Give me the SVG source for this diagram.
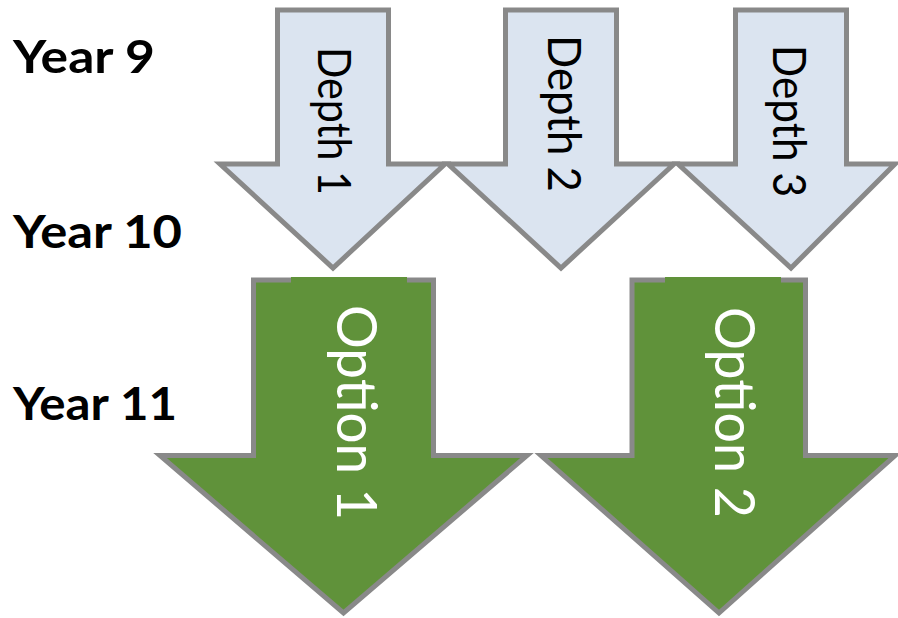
<svg xmlns="http://www.w3.org/2000/svg" width="898" height="618" viewBox="0 0 898 618">
<style>
.year{font-family:Lato,"Liberation Sans",sans-serif;font-weight:bold;font-size:45px;fill:#000}
.depth{fill:#dbe4f0;stroke:#898989;stroke-width:5;stroke-linejoin:miter}
.opt{fill:#60923a;stroke:#898989;stroke-width:5;stroke-linejoin:miter}
.dtext{font-family:Lato,"Liberation Sans",sans-serif;font-size:46px;fill:#000}
.otext{font-family:Lato,"Liberation Sans",sans-serif;font-size:56px;fill:#fff}
</style>
<rect width="898" height="618" fill="#fff"/>
<g id="labels">
<text class="year" x="13" y="73" textLength="142" lengthAdjust="spacingAndGlyphs">Year 9</text>
<text class="year" x="13" y="248" textLength="169" lengthAdjust="spacingAndGlyphs">Year 10</text>
<text class="year" x="13" y="420" textLength="164" lengthAdjust="spacingAndGlyphs">Year 11</text>
</g>
<g id="depth1">
<polygon class="depth" points="277.5,10 388.5,10 388.5,164 445,164 333,268 220,164 277.5,164"/>
<text class="dtext" transform="translate(318,47) rotate(90)" textLength="148" lengthAdjust="spacingAndGlyphs">Depth 1</text>
</g>
<g id="depth2">
<polygon class="depth" points="505.5,10 616.5,10 616.5,164 674,164 561,268 448,164 505.5,164"/>
<text class="dtext" transform="translate(548,35) rotate(90)" textLength="157" lengthAdjust="spacingAndGlyphs">Depth 2</text>
</g>
<g id="depth3">
<polygon class="depth" points="735.5,10 846.5,10 846.5,164 895,164 791,268 678,164 735.5,164"/>
<text class="dtext" transform="translate(773,45) rotate(90)" textLength="152" lengthAdjust="spacingAndGlyphs">Depth 3</text>
</g>
<g id="option1">
<polygon class="opt" points="253.5,280 433.5,280 433.5,455.5 527,455.5 343.5,613 160,455.5 253.5,455.5"/>
<rect x="291" y="277" width="116" height="6" fill="#60923a"/>
<text class="otext" transform="translate(337,305) rotate(90)" textLength="215" lengthAdjust="spacingAndGlyphs">Option 1</text>
</g>
<g id="option2">
<polygon class="opt" points="632,280 805.5,280 805.5,455.5 895,455.5 719,613 541,455.5 632,455.5"/>
<rect x="665" y="277" width="116" height="6" fill="#60923a"/>
<text class="otext" transform="translate(715,307) rotate(90)" textLength="211" lengthAdjust="spacingAndGlyphs">Option 2</text>
</g>
<g id="connectors"></g>
</svg>
